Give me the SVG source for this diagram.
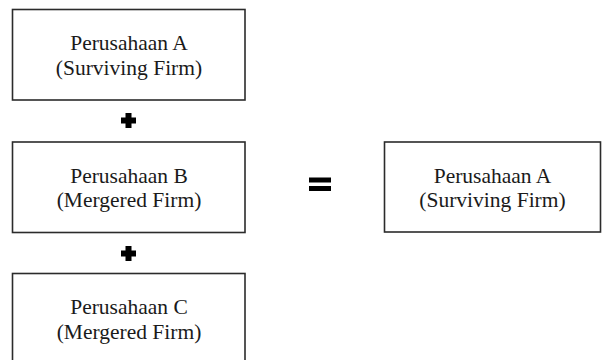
<svg xmlns="http://www.w3.org/2000/svg" width="603" height="360" viewBox="0 0 603 360">
<style>
.box{fill:#fff;stroke:#2b2b2b;stroke-width:1.6}
.t{font-family:"Liberation Serif","Times New Roman",serif;font-size:21.5px;fill:#1a1a1a;text-anchor:middle}
.sym{fill:#000}
</style>
<rect width="603" height="360" fill="#fff"/>
<g id="nodeA">
<rect class="box" x="12.5" y="9.5" width="232.5" height="90.5"/>
<text class="t" x="129" y="50">Perusahaan A</text>
<text class="t" x="129" y="74.5">(Surviving Firm)</text>
</g>
<g id="nodeB">
<rect class="box" x="12.5" y="142" width="232.5" height="90.5"/>
<text class="t" x="129" y="182.5">Perusahaan B</text>
<text class="t" x="129" y="207">(Mergered Firm)</text>
</g>
<g id="nodeC">
<rect class="box" x="12.5" y="273.5" width="232.5" height="100"/>
<text class="t" x="129" y="314">Perusahaan C</text>
<text class="t" x="129" y="339">(Mergered Firm)</text>
</g>
<g id="nodeResult">
<rect class="box" x="384.5" y="142" width="216" height="90"/>
<text class="t" x="492.5" y="182.5">Perusahaan A</text>
<text class="t" x="492.5" y="207">(Surviving Firm)</text>
</g>
<g id="connectors">
<path class="sym" d="M125.5 113h6v4.5h4.5v6h-4.5v4.5h-6v-4.5h-4.5v-6h4.5z"/>
<path class="sym" d="M125.5 246h6v4.5h4.5v6h-4.5v4.5h-6v-4.5h-4.5v-6h4.5z"/>
<rect class="sym" x="309" y="177.5" width="22" height="5"/>
<rect class="sym" x="309" y="186" width="22" height="5"/>
</g>
</svg>
